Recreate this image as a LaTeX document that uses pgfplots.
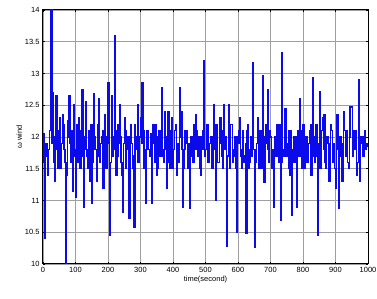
\documentclass[border=0pt]{standalone}
\usepackage{fontspec}
\setmainfont{Liberation Sans}
\usepackage{pgfplots}
\pgfplotsset{compat=1.18}
\usepackage{pgfplotstable}
\pgfplotstableread[row sep=\\]{
t v\\
0 12.05\\ 2.5 11.6\\ 5 10.4\\ 7.5 11.9\\ 10 11.9\\ 12.5 11.7\\ 15 11.4\\ 17.5 11.8\\ 20 12.1\\ 22.5 12.3\\
25 14.0\\ 27.5 11.9\\ 30 12.7\\ 32.5 11.6\\ 35 11.3\\ 37.5 12.0\\ 40 12.65\\ 42.5 11.8\\ 45 11.5\\ 47.5 12.1\\
50 12.3\\ 52.5 11.5\\ 55 11.7\\ 57.5 11.9\\ 60 12.35\\ 62.5 12.2\\ 65 11.8\\ 67.5 11.6\\ 70 10.0\\ 72.5 11.4\\
75 12.25\\ 77.5 12.0\\ 80 12.65\\ 82.5 11.9\\ 85 11.6\\ 87.5 12.1\\ 90 11.15\\ 92.5 11.7\\ 95 12.5\\ 97.5 11.8\\
100 11.05\\ 102.5 12.2\\ 105 11.9\\ 107.5 11.6\\ 110 12.3\\ 112.5 11.5\\ 115 11.5\\ 117.5 12.1\\ 120 12.75\\ 122.5 11.7\\
125 10.9\\ 127.5 12.0\\ 130 12.55\\ 132.5 11.8\\ 135 11.7\\ 137.5 11.5\\ 140 12.1\\ 142.5 11.9\\ 145 11.3\\ 147.5 12.2\\
150 10.95\\ 152.5 11.6\\ 155 12.68\\ 157.5 12.0\\ 160 11.8\\ 162.5 11.8\\ 165 11.3\\ 167.5 12.2\\ 170 12.6\\ 172.5 11.7\\
175 11.6\\ 177.5 11.9\\ 180 12.0\\ 182.5 12.1\\ 185 11.2\\ 187.5 11.5\\ 190 12.35\\ 192.5 11.8\\ 195 11.5\\ 197.5 12.0\\
200 12.85\\ 202.5 11.9\\ 205 10.45\\ 207.5 11.6\\ 210 12.65\\ 212.5 12.0\\ 215 11.7\\ 217.5 11.8\\ 220 13.6\\ 222.5 12.1\\
225 11.4\\ 227.5 11.7\\ 230 12.2\\ 232.5 11.9\\ 235 12.5\\ 237.5 12.0\\ 240 11.6\\ 242.5 11.4\\ 245 10.82\\ 247.5 11.9\\
250 12.3\\ 252.5 12.1\\ 255 11.5\\ 257.5 11.8\\ 260 12.0\\ 262.5 11.6\\ 265 10.72\\ 267.5 12.0\\ 270 12.2\\ 272.5 11.9\\
275 11.7\\ 277.5 11.5\\ 280 10.58\\ 282.5 12.2\\ 285 12.0\\ 287.5 11.8\\ 290 12.5\\ 292.5 11.6\\ 295 11.6\\ 297.5 12.0\\
300 12.3\\ 302.5 11.9\\ 305 12.85\\ 307.5 12.1\\ 310 11.5\\ 312.5 11.5\\ 315 10.96\\ 317.5 11.8\\ 320 12.1\\ 322.5 12.0\\
325 11.8\\ 327.5 11.7\\ 330 12.05\\ 332.5 11.9\\ 335 10.96\\ 337.5 12.2\\ 340 11.9\\ 342.5 11.6\\ 345 12.2\\ 347.5 12.0\\
350 11.4\\ 352.5 11.5\\ 355 12.1\\ 357.5 11.9\\ 360 11.7\\ 362.5 12.1\\ 365 12.77\\ 367.5 11.7\\ 370 11.6\\ 372.5 11.8\\
375 12.4\\ 377.5 12.0\\ 380 11.2\\ 382.5 11.6\\ 385 12.4\\ 387.5 11.9\\ 390 11.5\\ 392.5 12.1\\ 395 12.3\\ 397.5 11.5\\
400 11.8\\ 402.5 11.8\\ 405 12.1\\ 407.5 12.2\\ 410 11.4\\ 412.5 11.7\\ 415 11.9\\ 417.5 11.6\\ 420 12.77\\ 422.5 12.0\\
425 12.4\\ 427.5 11.8\\ 430 10.9\\ 432.5 11.5\\ 435 11.8\\ 437.5 12.1\\ 440 12.1\\ 442.5 11.9\\ 445 11.5\\ 447.5 11.9\\
450 10.88\\ 452.5 11.7\\ 455 12.0\\ 457.5 12.0\\ 460 11.6\\ 462.5 11.6\\ 465 12.2\\ 467.5 11.8\\ 470 12.35\\ 472.5 12.1\\
475 11.7\\ 477.5 11.9\\ 480 12.0\\ 482.5 11.5\\ 485 11.4\\ 487.5 12.0\\ 490 12.1\\ 492.5 11.8\\ 495 13.2\\ 497.5 11.7\\
500 11.8\\ 502.5 12.1\\ 505 12.2\\ 507.5 11.6\\ 510 11.6\\ 512.5 11.9\\ 515 12.0\\ 517.5 12.0\\ 520 11.5\\ 522.5 11.7\\
525 12.5\\ 527.5 11.8\\ 530 11.0\\ 532.5 12.2\\ 535 12.2\\ 537.5 11.6\\ 540 11.6\\ 542.5 11.9\\ 545 12.3\\ 547.5 12.1\\
550 11.7\\ 552.5 11.5\\ 555 12.5\\ 557.5 11.8\\ 560 11.9\\ 562.5 12.0\\ 565 10.28\\ 567.5 11.7\\ 570 12.5\\ 572.5 11.9\\
575 11.5\\ 577.5 12.2\\ 580 12.2\\ 582.5 11.6\\ 585 11.7\\ 587.5 11.8\\ 590 12.0\\ 592.5 11.5\\ 595 10.5\\ 597.5 12.0\\
600 11.9\\ 602.5 12.1\\ 605 12.3\\ 607.5 11.7\\ 610 11.5\\ 612.5 11.8\\ 615 12.1\\ 617.5 11.6\\ 620 11.7\\ 622.5 11.9\\
625 10.49\\ 627.5 12.1\\ 630 12.2\\ 632.5 11.5\\ 635 11.6\\ 637.5 11.8\\ 640 12.0\\ 642.5 11.7\\ 645 13.17\\ 647.5 11.8\\
650 10.27\\ 652.5 11.6\\ 655 11.8\\ 657.5 11.9\\ 660 12.3\\ 662.5 12.1\\ 665 11.5\\ 667.5 11.8\\ 670 12.1\\ 672.5 11.5\\
675 12.96\\ 677.5 12.0\\ 680 11.28\\ 682.5 11.7\\ 685 12.2\\ 687.5 11.9\\ 690 12.74\\ 692.5 11.8\\ 695 11.6\\ 697.5 12.1\\
700 12.0\\ 702.5 11.6\\ 705 11.5\\ 707.5 11.8\\ 710 10.9\\ 712.5 12.0\\ 715 11.9\\ 717.5 11.7\\ 720 12.2\\ 722.5 11.9\\
725 11.6\\ 727.5 12.2\\ 730 10.69\\ 732.5 11.6\\ 735 13.32\\ 737.5 11.8\\ 740 11.7\\ 742.5 12.0\\ 745 12.45\\ 747.5 11.7\\
750 11.8\\ 752.5 11.9\\ 755 12.1\\ 757.5 11.5\\ 760 11.4\\ 762.5 12.1\\ 765 10.77\\ 767.5 11.8\\ 770 12.0\\ 772.5 11.6\\
775 11.6\\ 777.5 12.0\\ 780 10.9\\ 782.5 11.9\\ 785 12.1\\ 787.5 11.7\\ 790 12.6\\ 792.5 12.1\\ 795 11.8\\ 797.5 11.5\\
800 12.2\\ 802.5 11.8\\ 805 11.5\\ 807.5 12.0\\ 810 12.0\\ 812.5 11.6\\ 815 11.7\\ 817.5 11.9\\ 820 12.1\\ 822.5 12.2\\
825 11.4\\ 827.5 11.7\\ 830 12.94\\ 832.5 11.8\\ 835 11.6\\ 837.5 12.0\\ 840 12.2\\ 842.5 11.7\\ 845 10.46\\ 847.5 11.9\\
850 12.72\\ 852.5 11.5\\ 855 11.8\\ 857.5 12.1\\ 860 12.3\\ 862.5 11.8\\ 865 12.35\\ 867.5 11.6\\ 870 11.5\\ 872.5 12.0\\
875 12.0\\ 877.5 11.9\\ 880 11.3\\ 882.5 11.7\\ 885 12.2\\ 887.5 12.1\\ 890 11.6\\ 892.5 11.8\\ 895 11.9\\ 897.5 11.5\\
900 11.2\\ 902.5 11.8\\ 905 12.35\\ 907.5 12.0\\ 910 10.88\\ 912.5 11.7\\ 915 12.0\\ 917.5 11.9\\ 920 11.3\\ 922.5 11.5\\
925 12.4\\ 927.5 12.1\\ 930 11.7\\ 932.5 11.8\\ 935 12.1\\ 937.5 11.6\\ 940 11.5\\ 942.5 12.0\\ 945 12.47\\ 947.5 12.47\\
950 12.47\\ 952.5 11.7\\ 955 11.8\\ 957.5 12.1\\ 960 12.1\\ 962.5 11.8\\ 965 11.4\\ 967.5 11.6\\ 970 12.9\\ 972.5 12.0\\
975 11.3\\ 977.5 11.9\\ 980 12.0\\ 982.5 11.7\\ 985 11.7\\ 987.5 12.0\\ 990 12.1\\ 992.5 11.8\\ 995 11.85\\ 997.5 11.9\\
1000 11.9\\
}\wind
\begin{document}
\begin{tikzpicture}
\begin{axis}[
  scale only axis,
  width=325pt, height=254pt,
  xmin=0, xmax=1000, ymin=10, ymax=14,
  xtick={0,100,...,1000},
  ytick={10,10.5,...,14},
  grid=major,
  major grid style={gray!75, line width=0.5pt},
  axis line style={black, line width=1pt},
  tick align=inside,
  major tick length=2pt,
  tick style={black, line width=0.5pt},
  ticklabel style={font=\fontsize{7.5}{9}\selectfont},
  /pgf/number format/assume math mode=true,
  xticklabel style={/pgf/number format/set thousands separator={}},
  yticklabel style={/pgf/number format/fixed},
  xlabel={time(second)},
  ylabel={ω wind},
  label style={font=\fontsize{7.5}{9}\selectfont},
  xlabel style={yshift=4pt},
  ylabel style={yshift=-4pt},
]
\addplot[const plot, color={rgb,255:red,10;green,10;blue,235}, line width=1.5pt] table[x=t,y=v] {\wind};
\end{axis}
\pgfresetboundingbox
\path (-43pt,-35pt) rectangle (334pt,264pt);
\end{tikzpicture}
\end{document}
